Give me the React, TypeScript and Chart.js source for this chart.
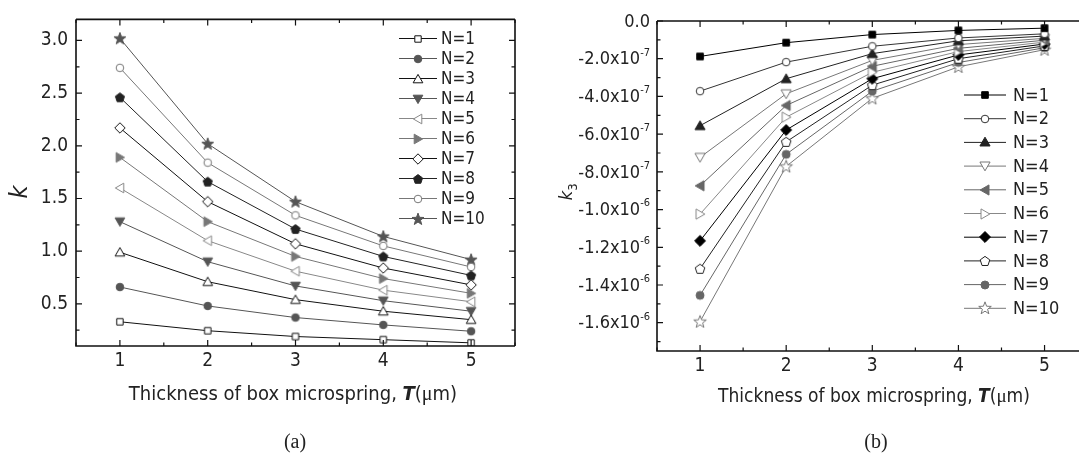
import React, { useEffect, useRef } from 'react';
import { Chart, registerables } from 'chart.js';

Chart.register(...registerables);

// ---------------- DATA ----------------
const T_VALUES = [1, 2, 3, 4, 5];
const SERIES_LABELS = ['N=1', 'N=2', 'N=3', 'N=4', 'N=5', 'N=6', 'N=7', 'N=8', 'N=9', 'N=10'];

// panel (a): k
const K_N1 = [0.33, 0.245, 0.19, 0.16, 0.13];
const K_N2 = [0.66, 0.48, 0.37, 0.30, 0.24];
const K_N3 = [0.99, 0.71, 0.54, 0.43, 0.35];
const K_N4 = [1.28, 0.90, 0.67, 0.53, 0.43];
const K_N5 = [1.60, 1.10, 0.81, 0.63, 0.52];
const K_N6 = [1.89, 1.28, 0.95, 0.74, 0.60];
const K_N7 = [2.17, 1.47, 1.07, 0.84, 0.68];
const K_N8 = [2.46, 1.66, 1.21, 0.95, 0.77];
const K_N9 = [2.74, 1.84, 1.34, 1.05, 0.85];
const K_N10 = [3.02, 2.02, 1.47, 1.14, 0.92];

// panel (b): k3
const K3_N1 = [-1.88e-7, -1.15e-7, -0.72e-7, -0.50e-7, -0.38e-7];
const K3_N2 = [-3.72e-7, -2.18e-7, -1.34e-7, -0.90e-7, -0.68e-7];
const K3_N3 = [-5.55e-7, -3.06e-7, -1.73e-7, -1.05e-7, -0.80e-7];
const K3_N4 = [-7.23e-7, -3.86e-7, -2.09e-7, -1.25e-7, -0.92e-7];
const K3_N5 = [-8.74e-7, -4.48e-7, -2.40e-7, -1.45e-7, -1.02e-7];
const K3_N6 = [-10.24e-7, -5.10e-7, -2.72e-7, -1.62e-7, -1.12e-7];
const K3_N7 = [-11.66e-7, -5.78e-7, -3.06e-7, -1.80e-7, -1.22e-7];
const K3_N8 = [-13.14e-7, -6.41e-7, -3.40e-7, -2.00e-7, -1.32e-7];
const K3_N9 = [-14.55e-7, -7.07e-7, -3.72e-7, -2.20e-7, -1.42e-7];
const K3_N10 = [-15.94e-7, -7.71e-7, -4.10e-7, -2.43e-7, -1.52e-7];

// ticks
const X_TICKS = [1, 2, 3, 4, 5];
const X_MINOR = [0.5, 1.5, 2.5, 3.5, 4.5, 5.5];
const K_TICKS = [0.5, 1.0, 1.5, 2.0, 2.5, 3.0];
const K_MINOR = [0.25, 0.75, 1.25, 1.75, 2.25, 2.75];
const K3_TICKS = [0, -2e-7, -4e-7, -6e-7, -8e-7, -1.0e-6, -1.2e-6, -1.4e-6, -1.6e-6];
const K3_MINOR = [-1e-7, -3e-7, -5e-7, -7e-7, -9e-7, -1.1e-6, -1.3e-6, -1.5e-6, -1.7e-6];

const K_SERIES = [K_N1, K_N2, K_N3, K_N4, K_N5, K_N6, K_N7, K_N8, K_N9, K_N10];
const K3_SERIES = [K3_N1, K3_N2, K3_N3, K3_N4, K3_N5, K3_N6, K3_N7, K3_N8, K3_N9, K3_N10];

// ---------------- STYLES ----------------
type Shape = 'square' | 'circle' | 'triUp' | 'triDown' | 'triLeft' | 'triRight' | 'diamond' | 'pentagon' | 'star';
type SeriesStyle = { shape: Shape; color: string; filled: boolean; r: number };

const STYLE_A: SeriesStyle[] = [
  { shape: 'square', color: '#111', filled: false, r: 3.2 },
  { shape: 'circle', color: '#555', filled: true, r: 3.8 },
  { shape: 'triUp', color: '#111', filled: false, r: 4 },
  { shape: 'triDown', color: '#555', filled: true, r: 4 },
  { shape: 'triLeft', color: '#888', filled: false, r: 4 },
  { shape: 'triRight', color: '#777', filled: true, r: 4 },
  { shape: 'diamond', color: '#111', filled: false, r: 4 },
  { shape: 'pentagon', color: '#222', filled: true, r: 4 },
  { shape: 'circle', color: '#777', filled: false, r: 3.8 },
  { shape: 'star', color: '#555', filled: true, r: 4.2 },
];

const STYLE_B: SeriesStyle[] = [
  { shape: 'square', color: '#000', filled: true, r: 3.3 },
  { shape: 'circle', color: '#333', filled: false, r: 3.8 },
  { shape: 'triUp', color: '#222', filled: true, r: 4.2 },
  { shape: 'triDown', color: '#777', filled: false, r: 4.2 },
  { shape: 'triLeft', color: '#666', filled: true, r: 4.2 },
  { shape: 'triRight', color: '#888', filled: false, r: 4.2 },
  { shape: 'diamond', color: '#000', filled: true, r: 4.2 },
  { shape: 'pentagon', color: '#222', filled: false, r: 4.2 },
  { shape: 'circle', color: '#666', filled: true, r: 4 },
  { shape: 'star', color: '#777', filled: false, r: 4.4 },
];

const SANS = '"Liberation Sans Narrow", "DejaVu Sans Condensed", "Liberation Sans", Arial, sans-serif';
const SERIF = '"Liberation Serif", "Times New Roman", serif';
const TEXT = '#222';

// ---------------- MARKERS ----------------
function poly(ctx: CanvasRenderingContext2D, x: number, y: number, n: number, R: number, startDeg: number) {
  for (let k = 0; k < n; k++) {
    const a = ((startDeg + (k * 360) / n) * Math.PI) / 180;
    const px = x + R * Math.cos(a);
    const py = y + R * Math.sin(a);
    if (k === 0) ctx.moveTo(px, py);
    else ctx.lineTo(px, py);
  }
}
function star(ctx: CanvasRenderingContext2D, x: number, y: number, R: number, r: number) {
  for (let k = 0; k < 10; k++) {
    const a = ((-90 + k * 36) * Math.PI) / 180;
    const rr = k % 2 === 0 ? R : r;
    const px = x + rr * Math.cos(a);
    const py = y + rr * Math.sin(a);
    if (k === 0) ctx.moveTo(px, py);
    else ctx.lineTo(px, py);
  }
}
function traceShape(ctx: CanvasRenderingContext2D, shape: Shape, x: number, y: number, r: number) {
  ctx.beginPath();
  switch (shape) {
    case 'square': ctx.rect(x - r, y - r, 2 * r, 2 * r); break;
    case 'circle': ctx.arc(x, y, r, 0, Math.PI * 2); break;
    case 'triUp': poly(ctx, x, y + r * 0.25, 3, r * 1.4, -90); break;
    case 'triDown': poly(ctx, x, y - r * 0.25, 3, r * 1.4, 90); break;
    case 'triLeft': poly(ctx, x + r * 0.25, y, 3, r * 1.4, 180); break;
    case 'triRight': poly(ctx, x - r * 0.25, y, 3, r * 1.4, 0); break;
    case 'diamond': poly(ctx, x, y, 4, r * 1.3, -90); break;
    case 'pentagon': poly(ctx, x, y + r * 0.1, 5, r * 1.2, -90); break;
    case 'star': star(ctx, x, y + r * 0.1, r * 1.5, r * 0.62); break;
  }
  ctx.closePath();
}
function makeMarker(st: SeriesStyle): HTMLCanvasElement {
  const size = Math.ceil(st.r * 1.6 + 2) * 2;
  const c = document.createElement('canvas');
  c.width = size;
  c.height = size;
  const ctx = c.getContext('2d')!;
  traceShape(ctx, st.shape, size / 2, size / 2, st.r);
  ctx.fillStyle = st.filled ? st.color : '#fff';
  ctx.fill();
  ctx.lineWidth = 1;
  ctx.strokeStyle = st.color;
  ctx.stroke();
  return c;
}

// ---------------- PANEL CONFIG ----------------
type TextSeg = { text: string; font: string };
type PanelCfg = {
  canvasW: number;
  series: number[][];
  styles: SeriesStyle[];
  xMin: number; xMax: number;
  yMin: number; yMax: number;
  yTicks: number[]; yMinor: number[];
  padding: { top: number; right: number; left: number; bottom: number };
  yWidth: number; xHeight: number;
  customYLabels: boolean;
  rightFrame: boolean;
  legend: { y0: number; dy: number; x1: number; x2: number; xm: number; xt: number; font: string };
  xTitle: { cx: number; cy: number; size: number };
  caption: { text: string; cx: number; cy: number };
  yTitle: { x: number; y: number; size: number; sub?: string };
};

function drawSegs(ctx: CanvasRenderingContext2D, segs: TextSeg[], cx: number, cy: number) {
  let total = 0;
  const widths = segs.map((s) => { ctx.font = s.font; const w = ctx.measureText(s.text).width; total += w; return w; });
  let x = cx - total / 2;
  ctx.textBaseline = 'middle';
  ctx.textAlign = 'left';
  segs.forEach((s, i) => { ctx.font = s.font; ctx.fillText(s.text, x, cy); x += widths[i]; });
}

function fmtSci(v: number): [string, string] {
  if (v === 0) return ['0.0', ''];
  const e = Math.floor(Math.log10(Math.abs(v)) + 1e-9);
  const m = v / Math.pow(10, e);
  return [m.toFixed(1) + 'x10', String(e)];
}

function makePlugin(cfg: PanelCfg, markers: HTMLCanvasElement[]) {
  return {
    id: 'panelDecor',
    afterDraw(chart: any) {
      const ctx: CanvasRenderingContext2D = chart.ctx;
      const { left, right, top, bottom } = chart.chartArea;
      const xs = chart.scales.x;
      const ys = chart.scales.y;
      ctx.save();
      // frame
      ctx.strokeStyle = '#111';
      ctx.lineWidth = 1.6;
      ctx.beginPath();
      ctx.moveTo(left, top); ctx.lineTo(left, bottom); ctx.lineTo(right, bottom);
      ctx.moveTo(left, top); ctx.lineTo(right, top);
      if (cfg.rightFrame) { ctx.moveTo(right, top); ctx.lineTo(right, bottom); }
      ctx.stroke();
      // ticks
      ctx.lineWidth = 1.2;
      ctx.beginPath();
      const xt = (vals: number[], len: number) => vals.forEach((v) => {
        const p = xs.getPixelForValue(v);
        if (p < left - 0.5 || p > right + 0.5) return;
        ctx.moveTo(p, bottom); ctx.lineTo(p, bottom - len);
        ctx.moveTo(p, top); ctx.lineTo(p, top + len);
      });
      const yt = (vals: number[], len: number) => vals.forEach((v) => {
        const p = ys.getPixelForValue(v);
        if (p < top - 0.5 || p > bottom + 0.5) return;
        ctx.moveTo(left, p); ctx.lineTo(left + len, p);
        if (cfg.rightFrame) { ctx.moveTo(right, p); ctx.lineTo(right - len, p); }
      });
      xt(X_TICKS, 6); xt(X_MINOR, 3.5);
      yt(cfg.yTicks, 6); yt(cfg.yMinor, 3.5);
      ctx.stroke();

      // custom y labels (sci notation)
      if (cfg.customYLabels) {
        ctx.fillStyle = TEXT;
        ctx.textBaseline = 'middle';
        ctx.textAlign = 'left';
        const xr = left - 7;
        cfg.yTicks.forEach((v) => {
          const p = ys.getPixelForValue(v);
          const [main, sup] = fmtSci(v);
          ctx.font = `18px ${SANS}`;
          const wm = ctx.measureText(main).width;
          ctx.font = `11px ${SANS}`;
          const ws = sup ? ctx.measureText(sup).width : 0;
          const x0 = xr - wm - ws;
          ctx.font = `18px ${SANS}`;
          ctx.fillText(main, x0, p + 1);
          if (sup) { ctx.font = `11px ${SANS}`; ctx.fillText(sup, x0 + wm, p - 6); }
        });
      }

      // legend
      const lg = cfg.legend;
      cfg.styles.forEach((st, i) => {
        const y = lg.y0 + i * lg.dy;
        ctx.strokeStyle = st.color;
        ctx.lineWidth = 1;
        ctx.beginPath();
        ctx.moveTo(lg.x1, y); ctx.lineTo(lg.x2, y);
        ctx.stroke();
        const m = markers[i];
        ctx.drawImage(m, Math.round(lg.xm - m.width / 2), Math.round(y - m.height / 2));
        ctx.fillStyle = TEXT;
        ctx.font = lg.font;
        ctx.textAlign = 'left';
        ctx.textBaseline = 'middle';
        ctx.fillText(SERIES_LABELS[i], lg.xt, y + 1);
      });

      // x title
      ctx.fillStyle = TEXT;
      const s = cfg.xTitle.size;
      drawSegs(ctx, [
        { text: 'Thickness of box microspring, ', font: `${s}px ${SANS}` },
        { text: 'T', font: `italic bold ${s}px ${SANS}` },
        { text: '(', font: `${s}px ${SANS}` },
        { text: 'μ', font: `${s}px ${SERIF}` },
        { text: 'm)', font: `${s}px ${SANS}` },
      ], cfg.xTitle.cx, cfg.xTitle.cy);

      // caption
      ctx.font = `20px ${SERIF}`;
      ctx.textAlign = 'center';
      ctx.textBaseline = 'middle';
      ctx.fillText(cfg.caption.text, cfg.caption.cx, cfg.caption.cy);

      // y title
      ctx.save();
      ctx.translate(cfg.yTitle.x, cfg.yTitle.y);
      ctx.rotate(-Math.PI / 2);
      ctx.textAlign = 'left';
      ctx.textBaseline = 'alphabetic';
      ctx.font = `italic ${cfg.yTitle.size}px ${SANS}`;
      const kw = ctx.measureText('k').width;
      const totalW = kw + (cfg.yTitle.sub ? 7 : 0);
      ctx.fillText('k', -totalW / 2, 0);
      if (cfg.yTitle.sub) {
        ctx.font = `${Math.round(cfg.yTitle.size * 0.7)}px ${SANS}`;
        ctx.fillText(cfg.yTitle.sub, -totalW / 2 + kw, 5);
      }
      ctx.restore();

      ctx.restore();
    },
  };
}

function buildChart(canvas: HTMLCanvasElement, cfg: PanelCfg) {
  const markers = cfg.styles.map(makeMarker);
  const datasets = cfg.series.map((vals, i) => ({
    label: SERIES_LABELS[i],
    data: T_VALUES.map((t, j) => ({ x: t, y: vals[j] })),
    borderColor: cfg.styles[i].color,
    backgroundColor: cfg.styles[i].color,
    borderWidth: 1,
    pointStyle: markers[i] as any,
    pointRadius: 4,
    pointHoverRadius: 4,
    tension: 0,
    fill: false,
  }));
  return new Chart(canvas, {
    type: 'line',
    data: { datasets },
    options: {
      animation: false,
      responsive: false,
      maintainAspectRatio: false,
      layout: { padding: cfg.padding },
      plugins: { legend: { display: false }, tooltip: { enabled: false }, title: { display: false } },
      events: [],
      scales: {
        x: {
          type: 'linear',
          min: cfg.xMin,
          max: cfg.xMax,
          afterBuildTicks: (sc: any) => { sc.ticks = X_TICKS.map((v) => ({ value: v })); },
          afterFit: (sc: any) => { sc.height = cfg.xHeight; },
          grid: { display: false, drawTicks: false },
          border: { display: false },
          ticks: { font: { family: SANS, size: 19 }, color: TEXT, padding: 4, maxRotation: 0, callback: (v: any) => String(v) },
        },
        y: {
          type: 'linear',
          min: cfg.yMin,
          max: cfg.yMax,
          afterBuildTicks: (sc: any) => { sc.ticks = cfg.yTicks.map((v) => ({ value: v })); },
          afterFit: (sc: any) => { sc.width = cfg.yWidth; },
          grid: { display: false, drawTicks: false },
          border: { display: false },
          ticks: {
            display: !cfg.customYLabels,
            font: { family: SANS, size: 19 },
            color: TEXT,
            padding: 8,
            callback: (v: any) => Number(v).toFixed(1),
          },
        },
      },
    },
    plugins: [makePlugin(cfg, markers)],
  } as any);
}

const PANEL_A: PanelCfg = {
  canvasW: 540,
  series: K_SERIES,
  styles: STYLE_A,
  xMin: 0.5, xMax: 5.5,
  yMin: 0.1, yMax: 3.2,
  yTicks: K_TICKS, yMinor: K_MINOR,
  padding: { top: 15, right: 25, left: 0, bottom: 0 },
  yWidth: 76, xHeight: 108,
  customYLabels: false,
  rightFrame: true,
  legend: { y0: 38.5, dy: 20, x1: 399, x2: 437, xm: 418, xt: 441, font: `17px ${SANS}` },
  xTitle: { cx: 293, cy: 395, size: 20 },
  caption: { text: '(a)', cx: 295, cy: 443 },
  yTitle: { x: 27, y: 192, size: 25 },
};

const PANEL_B: PanelCfg = {
  canvasW: 544,
  series: K3_SERIES,
  styles: STYLE_B,
  xMin: 0.5, xMax: 5.4,
  yMin: -1.75e-6, yMax: 0,
  yTicks: K3_TICKS, yMinor: K3_MINOR,
  padding: { top: 21, right: 0, left: 0, bottom: 0 },
  yWidth: 117, xHeight: 103,
  customYLabels: true,
  rightFrame: false,
  legend: { y0: 95, dy: 23.7, x1: 424, x2: 466, xm: 445, xt: 473, font: `18px ${SANS}` },
  xTitle: { cx: 334, cy: 397, size: 19 },
  caption: { text: '(b)', cx: 336, cy: 443 },
  yTitle: { x: 32, y: 192, size: 18, sub: '3' },
};

function Panel({ cfg, left }: { cfg: PanelCfg; left: number }) {
  const ref = useRef<HTMLCanvasElement | null>(null);
  useEffect(() => {
    if (!ref.current) return;
    const chart = buildChart(ref.current, cfg);
    return () => chart.destroy();
  }, [cfg]);
  return (
    <canvas
      ref={ref}
      width={cfg.canvasW}
      height={454}
      style={{ position: 'absolute', left, top: 0, width: cfg.canvasW, height: 454 }}
    />
  );
}

export default function App() {
  return (
    <div style={{ position: 'absolute', left: 0, top: 0, width: 1084, height: 454, background: '#fff', overflow: 'hidden' }}>
      <Panel cfg={PANEL_A} left={0} />
      <Panel cfg={PANEL_B} left={540} />
    </div>
  );
}
